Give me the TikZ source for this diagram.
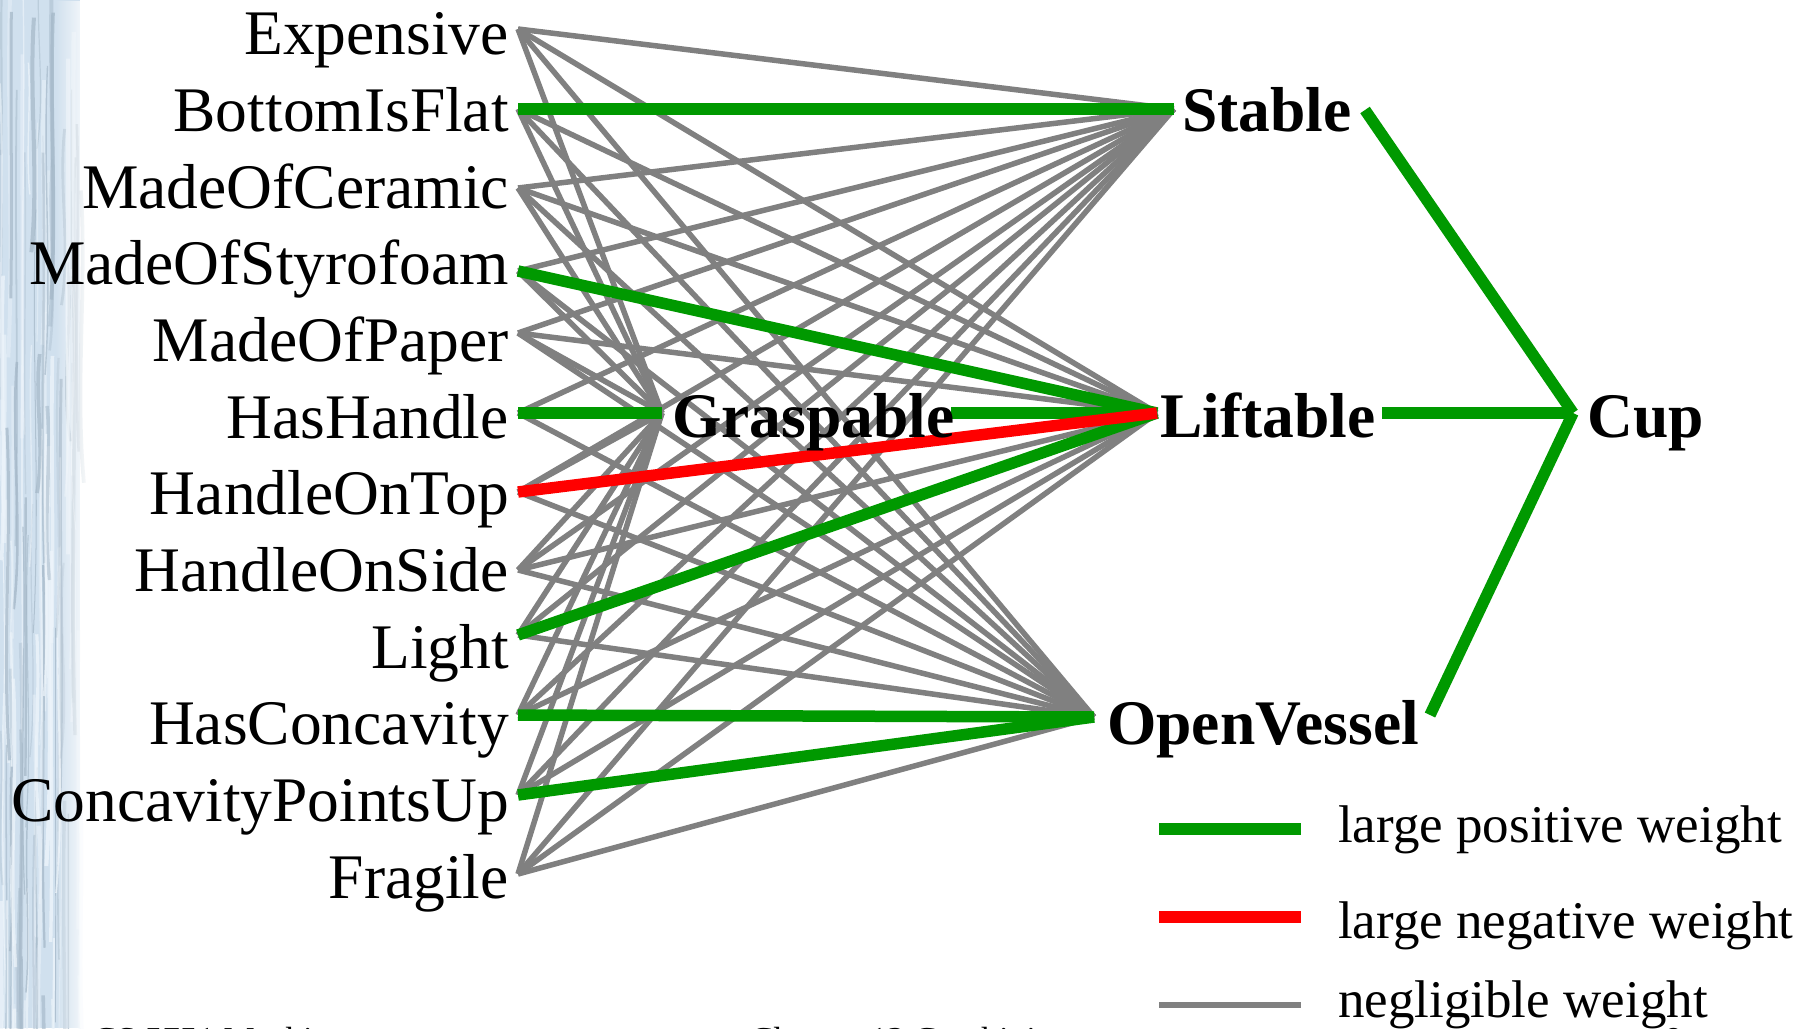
\documentclass[tikz,border=0pt]{standalone}
\usepackage{fontspec}
\setmainfont{Liberation Serif}
\usetikzlibrary{fadings}
\definecolor{wgreen}{RGB}{0,153,0}
\definecolor{wred}{RGB}{255,0,0}
\definecolor{wgray}{RGB}{128,128,128}
\definecolor{bgblue}{RGB}{208,224,238}
\definecolor{bgdark}{RGB}{165,184,200}
\definecolor{bglight}{RGB}{238,245,251}
\tikzfading[name=fadeToRight, left color=transparent!100, right color=transparent!0]
\begin{document}
\begin{tikzpicture}[x=1pt,y=-1pt,
  inlab/.style={anchor=base east, inner sep=0pt, font=\fontsize{63.5}{70}\selectfont},
  hidlab/.style={anchor=base west, inner sep=0pt, font=\fontsize{63.5}{70}\selectfont\bfseries},
  legtext/.style={anchor=base west, inner sep=0pt, font=\fontsize{53}{60}\selectfont},
  foottext/.style={anchor=base west, inner sep=0pt, font=\fontsize{35}{40}\selectfont},
  negl/.style={draw=wgray, line width=5.5pt},
  posw/.style={draw=wgreen, line width=11.5pt},
  negw/.style={draw=wred, line width=11.5pt},
]
\useasboundingbox (0,0) rectangle (1814,1028);
\fill[white] (0,0) rectangle (1814,1028);
% left textured strip
\fill[bgblue] (0,0) rectangle (80,1028);
\pgfmathsetseed{7}
\foreach \i in {1,...,110}{
  \pgfmathsetmacro\xa{rnd*82}
  \pgfmathsetmacro\ya{rnd*1100-60}
  \pgfmathsetmacro\len{120+rnd*380}
  \pgfmathsetmacro\dx{(rnd-0.5)*14}
  \pgfmathsetmacro\lw{0.8+rnd*3.5}
  \pgfmathsetmacro\op{0.3+rnd*0.5}
  \pgfmathsetmacro\yb{\ya+\len}
  \ifodd\i
    \draw[bgdark, line width=\lw pt, opacity=\op] (\xa,\ya) .. controls (\xa+\dx,\ya+\len/3) and (\xa-\dx,\ya+2*\len/3) .. (\xa+\dx/2,\yb);
  \else
    \draw[bglight, line width=\lw pt, opacity=\op] (\xa,\ya) .. controls (\xa+\dx,\ya+\len/3) and (\xa-\dx,\ya+2*\len/3) .. (\xa+\dx/2,\yb);
  \fi
}
\fill[white, path fading=fadeToRight] (55,0) rectangle (92,1028);
\fill[white] (92,0) rectangle (130,1028);

% input connection points
\coordinate (pexp) at (518,29);
\coordinate (pbif) at (518,109);
\coordinate (pmoc) at (518,188);
\coordinate (pmos) at (518,271);
\coordinate (pmop) at (518,333);
\coordinate (phh)  at (518,413);
\coordinate (phot) at (518,492);
\coordinate (phos) at (518,570);
\coordinate (plig) at (518,635);
\coordinate (phc)  at (518,715);
\coordinate (pcpu) at (518,795);
\coordinate (pfra) at (518,874);
% hidden / output connection points
\coordinate (gin)  at (662,413);
\coordinate (gout) at (951,413);
\coordinate (sin)  at (1174,109);
\coordinate (sout) at (1365,110);
\coordinate (lin)  at (1157,413);
\coordinate (lout) at (1382,413);
\coordinate (oin)  at (1094,717);
\coordinate (oout) at (1430,715);
\coordinate (cin)  at (1573,413);

% negligible weights
\foreach \p in {pexp,pbif,pmoc,pmos,pmop,phh,phot,phos,plig,phc,pcpu,pfra}{
  \draw[negl] (\p) -- (gin);
  \draw[negl] (\p) -- (sin);
  \draw[negl] (\p) -- (oin);
}
\foreach \p in {pexp,pbif,pmoc,pmos,pmop,phot,phos,plig,phc,pcpu,pfra}{
  \draw[negl] (\p) -- (lin);
}
% large weights
\draw[posw] (pbif) -- (sin);
\draw[posw] (pmos) -- (lin);
\draw[posw] (phh) -- (gin);
\draw[posw] (gout) -- (lin);
\draw[posw] (plig) -- (lin);
\draw[posw] (phc) -- (oin);
\draw[posw] (pcpu) -- (oin);
\draw[negw] (phot) -- (lin);
\draw[posw] (sout) -- (cin);
\draw[posw] (lout) -- (cin);
\draw[posw] (oout) -- (cin);

% input labels
\node[inlab] (exp) at (509,54)  {Expensive};
\node[inlab] (bif) at (509,131) {BottomIsFlat};
\node[inlab] (moc) at (509,208) {MadeOfCeramic};
\node[inlab] (mos) at (509,284) {MadeOfStyrofoam};
\node[inlab] (mop) at (509,361) {MadeOfPaper};
\node[inlab] (hh)  at (509,438) {HasHandle};
\node[inlab] (hot) at (509,514) {HandleOnTop};
\node[inlab] (hos) at (509,591) {HandleOnSide};
\node[inlab] (lig) at (509,668) {Light};
\node[inlab] (hc)  at (509,744) {HasConcavity};
\node[inlab] (cpu) at (509,821) {ConcavityPointsUp};
\node[inlab] (fra) at (509,898) {Fragile};
% hidden labels
\node[hidlab] (gra) at (672,437)  {Graspable};
\node[hidlab] (sta) at (1182,131) {Stable};
\node[hidlab] (lif) at (1160,437) {Liftable};
\node[hidlab] (ove) at (1107,744) {OpenVessel};
\node[hidlab] (cup) at (1587,437) {Cup};

% legend
\coordinate (lg1a) at (1159,829); \coordinate (lg1b) at (1301,829);
\coordinate (lg2a) at (1159,917); \coordinate (lg2b) at (1301,917);
\coordinate (lg3a) at (1159,1005); \coordinate (lg3b) at (1301,1005);
\draw[posw] (lg1a) -- (lg1b);
\draw[negw] (lg2a) -- (lg2b);
\draw[draw=wgray, line width=6pt] (lg3a) -- (lg3b);
\node[legtext] (leg1) at (1338,842)  {large positive weight};
\node[legtext] (leg2) at (1338,938)  {large negative weight};
\node[legtext] (leg3) at (1338,1017) {negligible weight};

% footer (cut off by the page edge)
\node[foottext] (foot1) at (93,1051)  {CS 5751 Machine};
\node[foottext] (foot2) at (750,1051) {Chapter 12 Combining};
\node[foottext] (foot3) at (1665,1051) {9};
\end{tikzpicture}
\end{document}
